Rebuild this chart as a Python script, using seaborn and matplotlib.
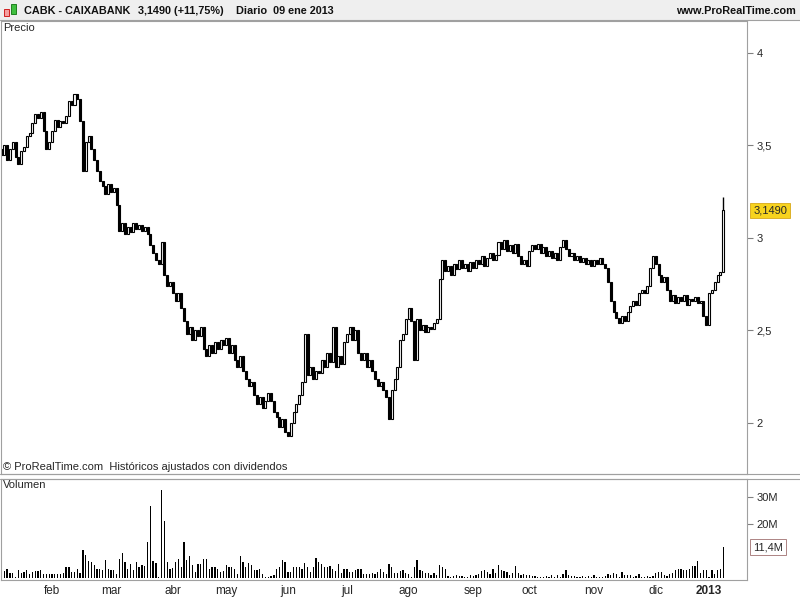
import numpy as np
import pandas as pd
import seaborn as sns
import matplotlib.pyplot as plt
from matplotlib.patches import Rectangle
from matplotlib.lines import Line2D

# Daily closes per month (EUR)
close_jan12 = [3.45, 3.50, 3.42, 3.48, 3.52, 3.44, 3.40, 3.47, 3.49, 3.55, 3.57, 3.62, 3.67, 3.65, 3.68,
               3.58, 3.48, 3.52]
close_feb12 = [3.58, 3.64, 3.60, 3.63, 3.62, 3.66, 3.74, 3.72, 3.78, 3.75, 3.63, 3.36, 3.52, 3.55, 3.48,
               3.42, 3.36, 3.31, 3.28, 3.24, 3.29]
close_mar12 = [3.25, 3.27, 3.18, 3.04, 3.08, 3.02, 3.06, 3.03, 3.08, 3.05, 3.07, 3.04, 3.06, 3.02, 2.96,
               2.92, 2.88, 2.86, 2.98, 2.80, 2.74, 2.76]
close_apr12 = [2.70, 2.66, 2.70, 2.62, 2.55, 2.48, 2.52, 2.45, 2.50, 2.47, 2.52, 2.40, 2.36, 2.42, 2.38,
               2.44, 2.40, 2.45, 2.42]
close_may12 = [2.46, 2.38, 2.42, 2.34, 2.30, 2.36, 2.28, 2.24, 2.20, 2.22, 2.15, 2.10, 2.14, 2.08, 2.12,
               2.16, 2.12, 2.06, 2.03, 1.98, 2.02, 1.95]
close_jun12 = [1.93, 2.00, 2.06, 2.10, 2.15, 2.22, 2.48, 2.26, 2.30, 2.24, 2.28, 2.27, 2.34, 2.30, 2.38,
               2.33, 2.52, 2.30, 2.36, 2.32, 2.44]
close_jul12 = [2.48, 2.52, 2.45, 2.50, 2.38, 2.34, 2.38, 2.30, 2.34, 2.28, 2.24, 2.20, 2.22, 2.18, 2.14,
               2.02, 2.18, 2.24, 2.30, 2.45, 2.48, 2.56]
close_aug12 = [2.62, 2.55, 2.34, 2.56, 2.50, 2.53, 2.49, 2.52, 2.51, 2.54, 2.56, 2.78, 2.88, 2.82, 2.85,
               2.80, 2.86, 2.83, 2.88, 2.84, 2.86, 2.82, 2.87]
close_sep12 = [2.84, 2.88, 2.86, 2.90, 2.85, 2.89, 2.92, 2.88, 2.91, 2.98, 2.94, 2.99, 2.93, 2.96, 2.92,
               2.97, 2.90, 2.86, 2.88, 2.85]
close_oct12 = [2.93, 2.96, 2.94, 2.97, 2.92, 2.95, 2.90, 2.93, 2.89, 2.92, 2.88, 2.95, 2.99, 2.94, 2.90,
               2.92, 2.88, 2.90, 2.87, 2.89, 2.86, 2.88, 2.85]
close_nov12 = [2.88, 2.86, 2.89, 2.86, 2.84, 2.76, 2.66, 2.60, 2.57, 2.54, 2.58, 2.55, 2.60, 2.63, 2.66,
               2.64, 2.70, 2.72, 2.70, 2.74, 2.84, 2.90]
close_dec12 = [2.86, 2.80, 2.76, 2.79, 2.72, 2.66, 2.69, 2.65, 2.68, 2.66, 2.69, 2.64, 2.67, 2.66, 2.68,
               2.65, 2.66, 2.58, 2.53]
close_jan13 = [2.70, 2.72, 2.76, 2.80, 2.818, 3.149]

# Daily volume per month (millions of shares)
vol_jan12 = [0.7, 2.7, 3.2, 1.9, 1.7, 0.5, 2.9, 1.9, 2.3, 2.9, 1.4, 2.3, 2.5, 2.7, 2.9, 1.5, 1.5, 1.5]
vol_feb12 = [1.5, 1.5, 1.5, 1.5, 1.7, 3.9, 3.9, 2.3, 2.3, 3.5, 1.7, 10.2, 8.7, 6.2, 5.8, 4.7, 3.5, 3.2,
             2.9, 6.5, 3.5]
vol_mar12 = [2.9, 2.9, 1.5, 7.0, 9.3, 5.9, 3.2, 5.1, 2.9, 6.0, 3.9, 4.7, 4.4, 13.5, 26.5, 6.2, 5.4, 0.5,
             32.6, 21.0, 5.9, 3.5]
vol_apr12 = [3.8, 6.0, 7.0, 4.1, 13.5, 6.5, 8.0, 4.7, 2.3, 5.1, 5.1, 7.2, 7.0, 3.2, 4.1, 3.9, 3.2, 2.3, 2.7]
vol_may12 = [4.7, 3.9, 3.9, 3.5, 1.5, 8.0, 6.0, 3.9, 5.4, 4.7, 2.9, 2.9, 3.2, 1.5, 0.5, 0.5, 0.7, 1.1,
             3.2, 4.1, 6.8, 6.0]
vol_jun12 = [2.3, 2.3, 4.1, 3.9, 4.1, 3.5, 5.4, 3.9, 2.3, 4.1, 7.5, 6.0, 5.1, 3.9, 4.1, 4.4, 3.5, 2.7,
             5.1, 1.7, 3.5]
vol_jul12 = [3.2, 2.3, 2.3, 2.9, 3.2, 3.2, 1.5, 1.5, 1.5, 1.7, 1.5, 2.3, 3.2, 2.3, 1.5, 5.1, 4.1, 1.7,
             1.7, 2.7, 2.9, 1.9]
vol_aug12 = [1.3, 0.5, 4.0, 6.5, 3.0, 2.5, 1.8, 2.0, 1.0, 1.8, 1.0, 4.7, 4.1, 3.5, 0.6, 0.5, 0.8, 1.0,
             0.6, 0.8, 0.5, 0.5, 1.0]
vol_sep12 = [0.8, 1.2, 1.5, 2.5, 2.8, 2.3, 1.3, 3.4, 1.8, 4.8, 2.9, 2.6, 2.3, 1.0, 1.7, 4.6, 1.8, 1.1,
             1.4, 1.1]
vol_oct12 = [1.1, 0.9, 0.7, 0.5, 0.5, 0.5, 0.7, 0.5, 1.1, 0.5, 1.1, 0.5, 1.4, 2.8, 1.1, 0.7, 0.7, 0.5,
             0.5, 0.7, 0.3, 0.7, 0.3]
vol_nov12 = [1.1, 0.3, 0.5, 0.5, 0.8, 1.3, 1.1, 1.7, 1.4, 0.5, 2.3, 1.0, 1.1, 1.1, 0.5, 0.7, 1.4, 0.5,
             0.5, 0.7, 0.5, 0.7]
vol_dec12 = [1.7, 2.3, 2.3, 1.1, 0.7, 1.4, 1.7, 2.9, 3.5, 3.2, 2.9, 2.9, 3.2, 4.5, 4.5, 6.2, 1.7, 2.8, 2.9]
vol_jan13 = [0.5, 2.9, 1.3, 2.9, 3.2, 11.4]

first_open = 3.48
last_high = 3.22
market_holidays = ["2012-04-06", "2012-04-09", "2012-05-01", "2012-12-25", "2012-12-26", "2013-01-01"]
month_labels = ["feb", "mar", "abr", "may", "jun", "jul", "ago", "sep", "oct", "nov", "dic", "2013"]
price_ticks = [2, 2.5, 3, 3.5, 4]
price_labels = ["2", "2,5", "3", "3,5", "4"]
vol_ticks = [20, 30]
vol_labels = ["20M", "30M"]

sns.set_style("white")
plt.rcParams["font.family"] = ["Liberation Sans", "DejaVu Sans"]

closes = np.array(close_jan12 + close_feb12 + close_mar12 + close_apr12 + close_may12 + close_jun12
                  + close_jul12 + close_aug12 + close_sep12 + close_oct12 + close_nov12 + close_dec12
                  + close_jan13)
volume = np.array(vol_jan12 + vol_feb12 + vol_mar12 + vol_apr12 + vol_may12 + vol_jun12 + vol_jul12
                  + vol_aug12 + vol_sep12 + vol_oct12 + vol_nov12 + vol_dec12 + vol_jan13)
dates = pd.bdate_range("2012-01-06", "2013-01-09", freq="C", holidays=market_holidays)

df = pd.DataFrame({"date": dates, "i": np.arange(len(dates)), "close": closes, "vol": volume})
df["open"] = df["close"].shift(1).fillna(first_open)
df["up"] = df["close"] >= df["open"]
month_start = df.loc[df["date"].dt.month != df["date"].dt.month.shift(1), "i"].values[1:]

W, H = 800, 600
fig = plt.figure(figsize=(8, 6), dpi=100)
GRID = "#a0a0a0"


def fbox(x0, y0, x1, y1):
    return [x0 / W, 1 - y1 / H, (x1 - x0) / W, (y1 - y0) / H]


# header bar
fig.patches.append(Rectangle((0, 1 - 20 / H), 1, 20 / H, transform=fig.transFigure,
                             fc="#efefef", ec="none", zorder=0))
for yy in (20, 474, 479):
    fig.add_artist(Line2D([0, 1], [1 - yy / H] * 2, color=GRID, lw=0.8))
# small candle icon
fig.patches.append(Rectangle((4 / W, 1 - 16 / H), 5 / W, 7 / H, transform=fig.transFigure,
                             fc="#f4a0a0", ec="#d02020", lw=0.7))
fig.patches.append(Rectangle((11 / W, 1 - 14 / H), 5 / W, 10 / H, transform=fig.transFigure,
                             fc="#40c040", ec="#208020", lw=0.7))
hdr = dict(fontsize=7.8, fontweight="bold", va="center", color="#111111")
fig.text(24 / W, 1 - 11 / H, "CABK - CAIXABANK", **hdr)
fig.text(138 / W, 1 - 11 / H, "3,1490 (+11,75%)", **hdr)
fig.text(236 / W, 1 - 11 / H, "Diario  09 ene 2013", **hdr)
fig.text(796 / W, 1 - 11 / H, "www.ProRealTime.com", ha="right", **hdr)

ax_p = fig.add_axes(fbox(1, 21, 747, 474))
ax_v = fig.add_axes(fbox(1, 479, 747, 580))

# price candles
body = (df["close"] - df["open"]).abs()
low = df[["open", "close"]].min(axis=1)
ax_p.bar(df["i"], body, bottom=low, width=0.72,
         color=np.where(df["up"], "white", "black"), edgecolor="black", linewidth=0.8)
ax_p.vlines(df["i"].iloc[-1], df["close"].iloc[-1], last_high, color="black", lw=1)

# volume
sns.barplot(data=df, x="i", y="vol", native_scale=True, color="black", width=0.45,
            linewidth=0, errorbar=None, saturation=1, ax=ax_v)

xlim = (-0.18, 265.5)
for ax in (ax_p, ax_v):
    ax.set_xlim(*xlim)
    ax.set_xlabel("")
    ax.set_ylabel("")
    ax.yaxis.tick_right()
    for s in ax.spines.values():
        s.set_visible(True)
        s.set_color(GRID)
        s.set_linewidth(0.8)
    ax.tick_params(axis="y", length=4, width=0.8, color="#808080", pad=3, labelsize=8)

ax_p.set_ylim(1.724, 4.173)
ax_p.set_yticks(price_ticks, price_labels)
ax_p.set_xticks([])

ax_v.set_ylim(-0.74, 36.66)
ax_v.set_yticks(vol_ticks, vol_labels)
ax_v.set_xticks(month_start, month_labels)
ax_v.tick_params(axis="x", length=0, pad=3.5, labelsize=8.5)
ax_v.get_xticklabels()[-1].set_fontweight("bold")

# last value markers
ax_p.annotate("3,1490", xy=(1, df["close"].iloc[-1]), xycoords=("axes fraction", "data"),
              xytext=(4.5, 0), textcoords="offset points", va="center", ha="left", fontsize=8,
              bbox=dict(boxstyle="square,pad=0.25", fc="#f7d31e", ec="#d8a818", lw=0.6))
ax_v.annotate("11,4M", xy=(1, df["vol"].iloc[-1]), xycoords=("axes fraction", "data"),
              xytext=(4.5, 0), textcoords="offset points", va="center", ha="left", fontsize=8,
              bbox=dict(boxstyle="square,pad=0.25", fc="white", ec="#a07070", lw=0.6))

# panel captions
fig.text(3 / W, 1 - 28 / H, "Precio", fontsize=8, va="center")
fig.text(3 / W, 1 - 467 / H, "© ProRealTime.com  Históricos ajustados con dividendos", fontsize=8,
         va="center")
fig.text(3 / W, 1 - 485 / H, "Volumen", fontsize=8, va="center")

fig.savefig("out.png", dpi=100)
